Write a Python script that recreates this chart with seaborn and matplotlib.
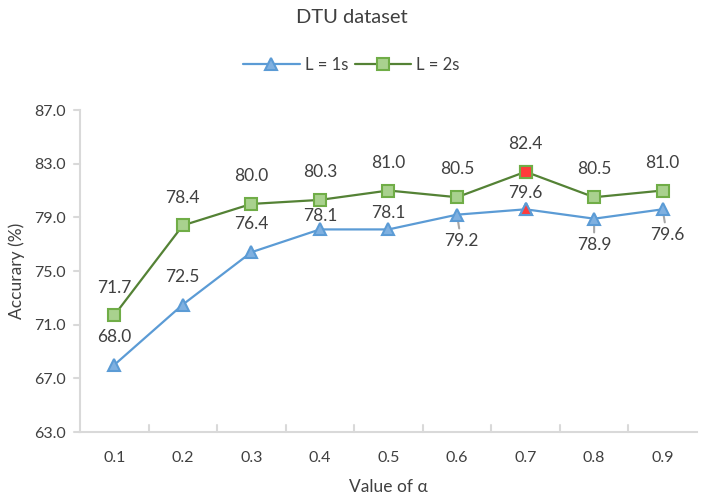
import matplotlib
matplotlib.use("Agg")
import matplotlib.pyplot as plt
import seaborn as sns
import pandas as pd

alphas = ["0.1", "0.2", "0.3", "0.4", "0.5", "0.6", "0.7", "0.8", "0.9"]
acc_1s = [68.0, 72.5, 76.4, 78.1, 78.1, 79.2, 79.6, 78.9, 79.6]
acc_2s = [71.7, 78.4, 80.0, 80.3, 81.0, 80.5, 82.4, 80.5, 81.0]
highlight = "0.7"
y_ticks = [63.0, 67.0, 71.0, 75.0, 79.0, 83.0, 87.0]

# label placement (offset in points from the marker; negative = below)
lab_dy_1s = [20, 20, 20, 9.5, 11.5, -19, 11.5, -19, -18.5]
lab_dx_1s = [0, 0, 0, 0, 0, 3, 0, 0, 3]
lab_dy_2s = [20, 20, 20, 20, 20, 20, 20, 20, 20]

sns.set_style("white")
plt.rcParams['font.family'] = ['Lato', 'DejaVu Sans']
txt = "#404040"
axis_c = "#d9d9d9"

pos = list(range(len(alphas)))
df = pd.DataFrame({
    "pos": pos * 2,
    "acc": acc_1s + acc_2s,
    "series": ["L = 1s"] * len(pos) + ["L = 2s"] * len(pos),
})

fig = plt.figure(figsize=(7.04, 5.01), dpi=100)
ax = fig.add_axes([0.1136, 0.1377, 0.8764, 0.6427])

blue_line, blue_fill = "#5b9bd5", "#7fb0e0"
green_line, green_fill, green_edge = "#548235", "#a9d18e", "#70ad47"

sns.lineplot(data=df[df.series == "L = 1s"], x="pos", y="acc", ax=ax,
             color=blue_line, lw=1.6, marker="^", markersize=9,
             markerfacecolor=blue_fill, markeredgecolor=blue_line,
             markeredgewidth=1.5, label="L = 1s", zorder=3)
sns.lineplot(data=df[df.series == "L = 2s"], x="pos", y="acc", ax=ax,
             color=green_line, lw=1.6, marker="s", markersize=8.5,
             markerfacecolor=green_fill, markeredgecolor=green_edge,
             markeredgewidth=1.5, label="L = 2s", zorder=3)

hi = alphas.index(highlight)
ax.plot([hi], [acc_2s[hi]], marker="s", markersize=8.5, color="#ff3b3b",
        markeredgecolor=green_edge, markeredgewidth=1.5, zorder=5)
ax.plot([hi], [acc_1s[hi]], marker="^", markersize=9, color="#ff3b3b",
        markeredgecolor=blue_line, markeredgewidth=1.5, zorder=5)

for i, v in enumerate(acc_2s):
    ax.annotate(f"{v:.1f}", (i, v), xytext=(0, lab_dy_2s[i]), textcoords="offset points",
                ha="center", va="center", fontsize=12.5, color=txt)
for i, v in enumerate(acc_1s):
    kw = {}
    if lab_dy_1s[i] < 0:
        kw["arrowprops"] = dict(arrowstyle="-", color="#a6a6a6", lw=1.5,
                                shrinkA=1, shrinkB=1)
    ax.annotate(f"{v:.1f}", (i, v), xytext=(lab_dx_1s[i], lab_dy_1s[i]),
                textcoords="offset points", ha="center", va="center",
                fontsize=12.5, color=txt, zorder=2, **kw)

ax.set_xlim(-0.5, len(alphas) - 0.5)
ax.set_ylim(63, 87)
ax.set_xticks(pos)
ax.set_xticklabels(alphas)
ax.set_yticks(y_ticks)
ax.set_yticklabels([f"{t:.1f}" for t in y_ticks])
ax.tick_params(axis="both", labelsize=11.5, colors=txt, length=0, pad=14)
ax.tick_params(axis="y", pad=10)
for b in [p + 0.5 for p in pos[:-1]]:
    ax.plot([b, b], [63, 63.5], color=axis_c, lw=1.5, clip_on=False)
for t in y_ticks:
    ax.plot([-0.5 - 0.09, -0.5], [t, t], color=axis_c, lw=1.5, clip_on=False)

for s in ["top", "right"]:
    ax.spines[s].set_visible(False)
for s in ["left", "bottom"]:
    ax.spines[s].set_color(axis_c)
    ax.spines[s].set_linewidth(1.5)

ax.set_xlabel("Value of α", fontsize=12.5, color=txt, labelpad=10)
ax.set_ylabel("Accurary (%)", fontsize=12.5, color=txt, labelpad=7)

fig.suptitle("DTU dataset", fontsize=14.5, color=txt, y=0.983)
leg = ax.legend(loc="center", bbox_to_anchor=(0.44, 1.14), ncol=2, frameon=False,
                fontsize=12, handlelength=3.4, columnspacing=0.4, handletextpad=0.3)
for t in leg.get_texts():
    t.set_color(txt)

fig.savefig("out.png", dpi=100)
